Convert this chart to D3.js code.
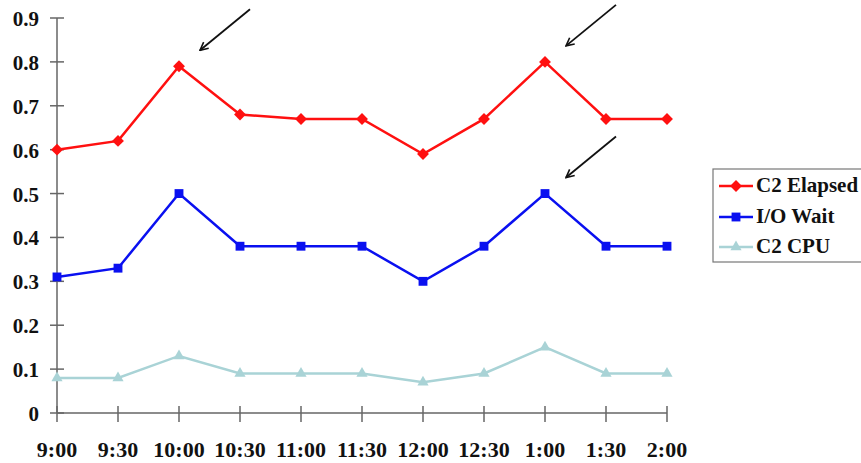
<!DOCTYPE html>
<html><head><meta charset="utf-8">
<script src="https://cdn.jsdelivr.net/npm/d3@7"></script>
<style>body{margin:0;background:#fff}svg{display:block}
text{font-family:"Liberation Serif","Tinos","Times New Roman",serif;font-weight:bold}</style>
</head><body>
<script>
const categories = ["9:00","9:30","10:00","10:30","11:00","11:30","12:00","12:30","1:00","1:30","2:00"];
const elapsed = [0.60,0.62,0.79,0.68,0.67,0.67,0.59,0.67,0.80,0.67,0.67];
const ioWait  = [0.31,0.33,0.50,0.38,0.38,0.38,0.30,0.38,0.50,0.38,0.38];
const cpu     = [0.08,0.08,0.13,0.09,0.09,0.09,0.07,0.09,0.15,0.09,0.09];
const yTicks = [0,0.1,0.2,0.3,0.4,0.5,0.6,0.7,0.8,0.9];
const seriesNames = ["C2 Elapsed","I/O Wait","C2 CPU"];
const arrowTargets = [{cat:2, val:0.79},{cat:8, val:0.80},{cat:8, val:0.50}];

const W=861,H=463;
const svg=d3.select("body").append("svg").attr("width",W).attr("height",H);
const x=d3.scalePoint().domain(categories).range([57,667]);
const y=d3.scaleLinear().domain([0,0.9]).range([413,18]);
const axisCol="#666";

svg.append("line").attr("x1",57).attr("x2",57).attr("y1",y(0.9)).attr("y2",y(0)).attr("stroke",axisCol).attr("stroke-width",1.5);
yTicks.forEach(t=>{
  svg.append("line").attr("x1",50).attr("x2",64).attr("y1",y(t)).attr("y2",y(t)).attr("stroke",axisCol).attr("stroke-width",1.5);
  svg.append("text").attr("x",39).attr("y",y(t)+8).attr("text-anchor","end")
    .attr("font-size",21).attr("fill","#111").text(t===0?"0":d3.format(".1f")(t));
});
svg.append("line").attr("x1",x(categories[0])).attr("x2",x(categories[categories.length-1])).attr("y1",y(0)).attr("y2",y(0)).attr("stroke",axisCol).attr("stroke-width",1.5);
categories.forEach(c=>{
  svg.append("line").attr("x1",x(c)).attr("x2",x(c)).attr("y1",y(0)-7).attr("y2",y(0)+9).attr("stroke",axisCol).attr("stroke-width",1.5);
  svg.append("text").attr("x",x(c)).attr("y",457).attr("text-anchor","middle")
    .attr("font-size",22).attr("fill","#111").text(c);
});

const series=[
  {name:seriesNames[0],vals:elapsed,color:"#ff1010",sym:d3.symbolDiamond2,size:90},
  {name:seriesNames[1],vals:ioWait,color:"#0a10f0",sym:d3.symbolSquare2,size:100},
  {name:seriesNames[2],vals:cpu,color:"#a9d3d6",sym:d3.symbolTriangle2,size:90}
];
const line=d3.line().x((d,i)=>x(categories[i])).y(d=>y(d));
function marker(g,s,cx,cy){
  g.append("path").attr("d",d3.symbol().type(s.sym).size(s.size)()).attr("transform",`translate(${cx},${cy})`).attr("fill",s.color);
}
series.slice().reverse().forEach(s=>{
  svg.append("path").attr("d",line(s.vals)).attr("fill","none").attr("stroke",s.color).attr("stroke-width",2.5);
  s.vals.forEach((v,i)=>marker(svg,s,x(categories[i]),y(v)));
});

svg.append("defs").append("marker").attr("id","ah").attr("viewBox","0 0 10 10").attr("refX",9).attr("refY",5)
  .attr("markerWidth",10).attr("markerHeight",10).attr("markerUnits","userSpaceOnUse").attr("orient","auto")
  .append("path").attr("d","M1,1 L9,5 L1,9").attr("fill","none").attr("stroke","#111").attr("stroke-width",1.6);
arrowTargets.forEach(a=>{
  const tx=x(categories[a.cat])+21, ty=y(a.val)-16;
  svg.append("line").attr("x1",tx+50).attr("y1",ty-41).attr("x2",tx).attr("y2",ty)
    .attr("stroke","#111").attr("stroke-width",1.8).attr("marker-end","url(#ah)");
});

const lg=svg.append("g");
lg.append("rect").attr("x",713).attr("y",169).attr("width",160).attr("height",93).attr("fill","#fff").attr("stroke","#777").attr("stroke-width",1.2);
const rowsY=[186,217,247];
series.forEach((s,i)=>{
  lg.append("line").attr("x1",719).attr("x2",753).attr("y1",rowsY[i]).attr("y2",rowsY[i]).attr("stroke",s.color).attr("stroke-width",2.5);
  marker(lg,s,736,rowsY[i]);
  lg.append("text").attr("x",756).attr("y",rowsY[i]+6).attr("font-size",21).attr("fill","#111").text(s.name);
});
</script>
</body></html>
